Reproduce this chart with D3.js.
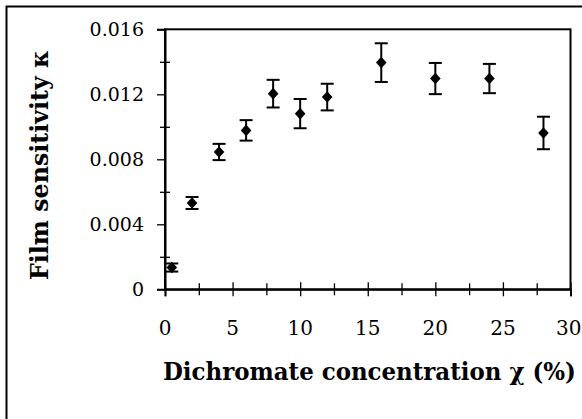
<!DOCTYPE html>
<html>
<head>
<meta charset="utf-8">
<script src="https://cdn.jsdelivr.net/npm/d3@7"></script>
<style>
  html, body { margin: 0; padding: 0; background: #fff; }
  svg { display: block; }
  svg text { font-family: "DejaVu Serif", serif; fill: #000; }
</style>
</head>
<body>
<svg id="chart" width="582" height="419"></svg>
<script>
// Dichromate concentration (%) and measured film sensitivity with error bars
const concentration = [0.5, 2, 4, 6, 8, 10, 12, 16, 20, 24, 28];
const sensitivity   = [0.00134, 0.00531, 0.00845, 0.00978, 0.01204, 0.01081, 0.01183, 0.01395, 0.01297, 0.01297, 0.00962];
const errorBar      = [0.00025, 0.00037, 0.0005, 0.00063, 0.00085, 0.0009, 0.00082, 0.00119, 0.00096, 0.0009, 0.001];

const xTicks = [0, 5, 10, 15, 20, 25, 30];
const yTicks = [0, 0.004, 0.008, 0.012, 0.016];
const xTickLabels = ["0", "5", "10", "15", "20", "25", "30"];
const yTickLabels = ["0", "0.004", "0.008", "0.012", "0.016"];
const xMinorTicks = [2.5, 7.5, 12.5, 17.5, 22.5, 27.5];
const yMinorTicks = [0.002, 0.006, 0.010, 0.014];

const W = 582;
const svg = d3.select("#chart");
const plot = { left: 165, right: 570.5, top: 29.3, bottom: 289.3 };

const x = d3.scaleLinear().domain([0, 30]).range([plot.left, plot.right]);
const y = d3.scaleLinear().domain([0, 0.016]).range([plot.bottom, plot.top]);

// outer frame (runs past the right and bottom edges)
svg.append("rect")
  .attr("x", 6.5).attr("y", 6.5).attr("width", 600).attr("height", 440)
  .attr("fill", "none").attr("stroke", "#000").attr("stroke-width", 2);

// plot frame
svg.append("rect")
  .attr("x", plot.left).attr("y", plot.top)
  .attr("width", plot.right - plot.left).attr("height", plot.bottom - plot.top)
  .attr("fill", "none").attr("stroke", "#000").attr("stroke-width", 2);

// x axis: major and minor ticks both cross the axis line
const xAxisG = svg.append("g").attr("transform", `translate(0,${plot.bottom})`);
xAxisG.call(d3.axisBottom(x).tickValues(xTicks).tickSize(7).tickFormat(""))
  .call(g => g.select(".domain").attr("stroke-width", 2))
  .call(g => g.selectAll(".tick line").attr("y1", -7).attr("stroke-width", 1.3));
xAxisG.append("g").call(d3.axisBottom(x).tickValues(xMinorTicks).tickSize(6).tickFormat(""))
  .call(g => g.select(".domain").remove())
  .call(g => g.selectAll(".tick line").attr("y1", -6).attr("stroke-width", 1.3));

// y axis: major ticks outside, minor ticks crossing
const yAxisG = svg.append("g").attr("transform", `translate(${plot.left},0)`);
yAxisG.call(d3.axisLeft(y).tickValues(yTicks).tickSize(8).tickFormat(""))
  .call(g => g.select(".domain").attr("stroke-width", 2))
  .call(g => g.selectAll(".tick line").attr("stroke-width", 1.3));
yAxisG.append("g").call(d3.axisLeft(y).tickValues(yMinorTicks).tickSize(5).tickFormat(""))
  .call(g => g.select(".domain").remove())
  .call(g => g.selectAll(".tick line").attr("x2", 5).attr("x1", -5).attr("stroke-width", 1.3));

// tick labels (the last x label is kept inside the page edge)
svg.append("g").selectAll("text").data(xTicks).join("text")
  .attr("y", 335)
  .attr("text-anchor", "middle").attr("font-size", 20)
  .text((d, i) => xTickLabels[i])
  .attr("x", function (d) {
    const half = this.getComputedTextLength() / 2;
    return Math.min(x(d), W - 0.5 - half);
  });

svg.append("g").selectAll("text").data(yTicks).join("text")
  .attr("x", 144).attr("y", d => y(d) + 6.8)
  .attr("text-anchor", "end").attr("font-size", 19)
  .text((d, i) => yTickLabels[i]);

// axis titles, horizontally condensed to their set lengths
function fitTitle(sel, length, tx, ty, rotate) {
  const natural = sel.node().getComputedTextLength();
  const k = length / natural;
  sel.attr("transform", `translate(${tx},${ty})${rotate ? " rotate(-90)" : ""} scale(${k},1)`);
}

const xTitle = svg.append("text")
  .attr("font-size", 24).attr("font-weight", "bold")
  .text("Dichromate concentration χ (%)");
fitTitle(xTitle, 413, 163, 380, false);

const yTitle = svg.append("text")
  .attr("font-size", 24).attr("font-weight", "bold")
  .text("Film sensitivity κ");
fitTitle(yTitle, 230, 48, 280, true);

// error bars
const capHalf = 6.5;
const bars = svg.append("g").attr("stroke", "#000").attr("stroke-width", 2);
concentration.forEach((c, i) => {
  const cx = x(c), hi = y(sensitivity[i] + errorBar[i]), lo = y(sensitivity[i] - errorBar[i]);
  bars.append("line").attr("x1", cx).attr("x2", cx).attr("y1", hi).attr("y2", lo);
  bars.append("line").attr("x1", cx - capHalf).attr("x2", cx + capHalf).attr("y1", hi).attr("y2", hi);
  bars.append("line").attr("x1", cx - capHalf).attr("x2", cx + capHalf).attr("y1", lo).attr("y2", lo);
});

// diamond markers
svg.append("g").selectAll("path").data(concentration).join("path")
  .attr("transform", (d, i) => `translate(${x(d)},${y(sensitivity[i])})`)
  .attr("d", "M0,-5.8L5.3,0L0,5.8L-5.3,0Z")
  .attr("fill", "#000");
</script>
</body>
</html>
